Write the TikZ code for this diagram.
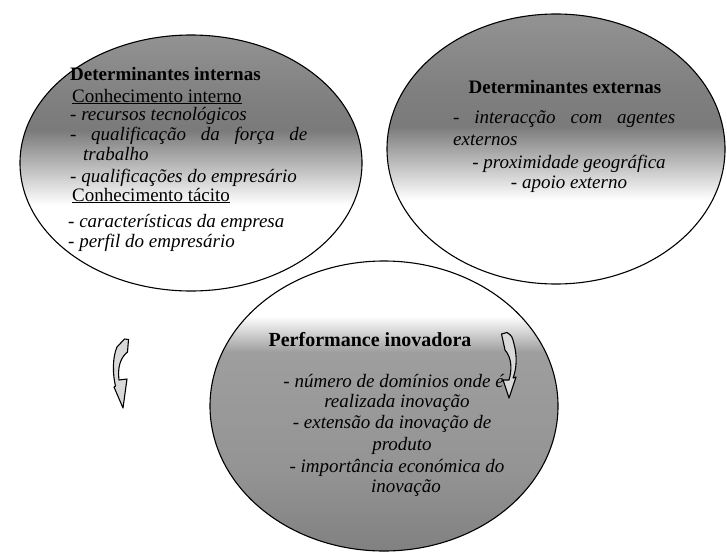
\documentclass[tikz,border=0pt]{standalone}
\usepackage{fontspec}
\setmainfont{Liberation Serif}
\definecolor{gtop}{gray}{0.58}
\definecolor{gdark}{gray}{0.48}
\definecolor{gmid}{gray}{0.50}
\definecolor{gb}{gray}{0.62}
\definecolor{gbl}{gray}{0.58}
\definecolor{gbd}{gray}{0.50}
\tikzset{
  outline/.style={draw=black, line width=1.1pt},
  txt/.style={inner sep=0pt, font=\fontsize{19}{21}\selectfont, anchor=base west},
  ctxt/.style={txt, anchor=base},
  curlyarrow/.style={draw=black, line width=1.1pt, fill=black!15, line join=round}
}
\begin{document}
\begin{tikzpicture}[x=1pt,y=-1pt]
\useasboundingbox (0,0) rectangle (727,554);
\fill[white] (0,0) rectangle (727,554);
% centres
\coordinate (cl) at (191,163);
\coordinate (cr) at (556,149);
\coordinate (cb) at (384,406);
% left ellipse fill
\begin{scope}
  \clip (cl) ellipse [x radius=171, y radius=128];
  \shade[top color=gtop, bottom color=gmid] (15,30) rectangle (370,100);
  \shade[top color=gmid, bottom color=gdark] (15,100) rectangle (370,130);
  \shade[top color=gdark, bottom color=white] (15,130) rectangle (370,205);
\end{scope}
% right ellipse fill
\begin{scope}
  \clip (cr) ellipse [x radius=169, y radius=135];
  \shade[top color=gtop, bottom color=gmid] (380,10) rectangle (730,90);
  \shade[top color=gmid, bottom color=gdark] (380,90) rectangle (730,126);
  \shade[top color=gdark, bottom color=white] (380,126) rectangle (730,200);
\end{scope}
% bottom ellipse fill
\begin{scope}
  \clip (cb) ellipse [x radius=174, y radius=145];
  \shade[top color=white, bottom color=gb] (205,316) rectangle (565,352);
  \shade[top color=gb, bottom color=gbl] (205,352) rectangle (565,470);
  \shade[top color=gbl, bottom color=gbd] (205,470) rectangle (565,556);
\end{scope}
% outlines
\draw[outline] (cl) ellipse [x radius=171, y radius=128];
\draw[outline] (cr) ellipse [x radius=169, y radius=135];
\draw[outline] (cb) ellipse [x radius=174, y radius=145];
% left texts
\node[txt] (l1) at (70,80) {\textbf{Determinantes internas}};
\node[txt] (l2) at (72,102) {\underline{Conhecimento interno}};
\node[txt] (l3) at (70,120) {\textit{- recursos tecnológicos}};
\node[txt] (l4) at (70,140) {\makebox[237pt][s]{\itshape - qualificação da força de}};
\node[txt] (l5) at (83,160) {\textit{trabalho}};
\node[txt] (l6) at (70,182) {\textit{- qualificações do empresário}};
\node[txt] (l7) at (72,201) {\underline{Conhecimento tácito}};
\node[txt] (l8) at (68,227) {\textit{- características da empresa}};
\node[txt] (l9) at (68,247) {\textit{- perfil do empresário}};
% right texts
\node[ctxt] (r1) at (565,93) {\textbf{Determinantes externas}};
\node[txt] (r2) at (453,123) {\makebox[222pt][s]{\itshape - interacção com agentes}};
\node[txt] (r3) at (453,145) {\textit{externos}};
\node[ctxt] (r4) at (569,168) {\textit{- proximidade geográfica}};
\node[ctxt] (r5) at (569,188) {\textit{- apoio externo}};
% bottom texts
\node[ctxt, font=\fontsize{20}{22}\selectfont] (b1) at (370,346) {\textbf{Performance inovadora}};
\node[ctxt] (b2) at (394,387) {\textit{- número de domínios onde é}};
\node[ctxt] (b3) at (397,407) {\textit{realizada inovação}};
\node[ctxt] (b4) at (392,428) {\textit{- extensão da inovação de}};
\node[ctxt] (b5) at (402,450) {\textit{produto}};
\node[ctxt] (b6) at (397,472) {\textit{- importância económica do}};
\node[ctxt] (b7) at (406,492) {\textit{inovação}};
% curly arrows
\draw[curlyarrow] (124.5,339) -- (128.5,339.5) -- (127.5,352)
  .. controls (120,358) and (117.5,368) .. (119,380)
  -- (127,379) -- (123,408) -- (114,387) -- (115.5,386)
  .. controls (112.5,374) and (112.5,357) .. (117,347) -- cycle;
\draw[curlyarrow] (501.5,334) -- (507,332.5)
  .. controls (512,336) .. (514,344)
  .. controls (517,355) and (517,368) .. (513,378)
  -- (516,377) -- (509,398) -- (503,380) -- (509,380)
  .. controls (512,370) and (512,358) .. (505,350) -- cycle;
\end{tikzpicture}
\end{document}
